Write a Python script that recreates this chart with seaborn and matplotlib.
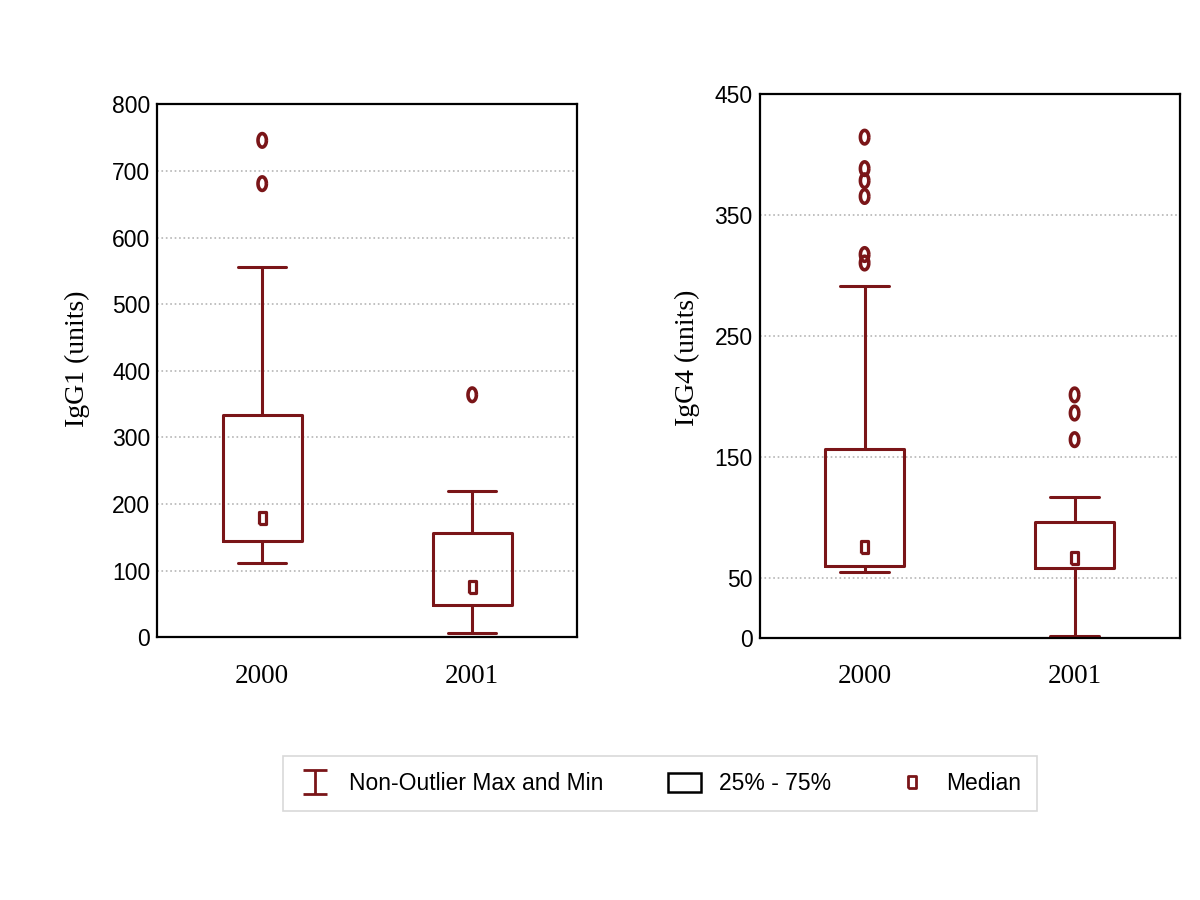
import matplotlib
matplotlib.use("Agg")
import matplotlib.pyplot as plt
import seaborn as sns
import numpy as np
from matplotlib.path import Path
from matplotlib.lines import Line2D
from matplotlib.patches import Patch

sns.set_style("white")
plt.rcParams['font.family'] = ['Liberation Sans', 'DejaVu Sans']
plt.rcParams['text.color'] = 'black'
plt.rcParams['axes.labelcolor'] = 'black'
plt.rcParams['xtick.color'] = 'black'
plt.rcParams['ytick.color'] = 'black'

# data
years = ['2000', '2001']

igg1_q1 = [144, 49]
igg1_q3 = [334, 156]
igg1_med = [179, 75]
igg1_lo = [112, 7]
igg1_hi = [556, 220]
igg1_out = [[746, 681], [364]]

igg4_q1 = [60, 58]
igg4_q3 = [156, 96]
igg4_med = [75, 66]
igg4_lo = [55, 2]
igg4_hi = [291, 117]
igg4_out = [[414, 388, 378, 365, 317, 310], [201, 186, 164]]

red = '#7a1518'

# marker shapes: tall "o" for outliers, tall rectangle for median
t = np.linspace(0, 2 * np.pi, 40)
oval = np.column_stack([0.62 * np.cos(t), np.sin(t)])
rect = [(-0.6, -1), (0.6, -1), (0.6, 1), (-0.6, 1), (-0.6, -1)]
cap = Path([(-1, 1), (1, 1), (0, 1), (0, -1), (-1, -1), (1, -1)],
           [Path.MOVETO, Path.LINETO, Path.MOVETO, Path.LINETO, Path.MOVETO, Path.LINETO])

fig = plt.figure(figsize=(12, 9), dpi=100)
ax1 = fig.add_axes([0.131, 0.292, 0.350, 0.592])
ax2 = fig.add_axes([0.633, 0.291, 0.350, 0.605])


def draw_panel(ax, q1, q3, med, lo, hi, out, ylim, yticks, ylabel, lab_xy):
    stats = []
    for i in range(len(years)):
        stats.append({'med': med[i], 'q1': q1[i], 'q3': q3[i],
                      'whislo': lo[i], 'whishi': hi[i], 'fliers': [],
                      'label': years[i]})
    line = dict(color=red, linewidth=2.2)
    ax.bxp(stats, positions=[0, 1], widths=0.375, capwidths=0.23,
           showfliers=False, boxprops=line, whiskerprops=line, capprops=line,
           medianprops=dict(visible=False))
    # outliers
    ox = [i for i in range(len(years)) for _ in out[i]]
    oy = [v for i in range(len(years)) for v in out[i]]
    sns.scatterplot(x=ox, y=oy, marker=oval, s=95, facecolors='none',
                    edgecolor=red, linewidth=2.6, ax=ax, zorder=4)
    # medians
    sns.scatterplot(x=[0, 1], y=med, marker=rect, s=75, facecolors='none',
                    edgecolor=red, linewidth=2.3, ax=ax, zorder=4)
    ax.set_xlim(-0.5, 1.5)
    ax.set_ylim(*ylim)
    ax.set_yticks(yticks)
    ax.set_xticks([0, 1])
    ax.set_xticklabels(years, family='Liberation Serif', fontsize=19.5)
    ax.tick_params(axis='x', length=0, pad=19)
    ax.tick_params(axis='y', length=3, width=1, labelsize=16.5, pad=2)
    ax.yaxis.grid(True, linestyle=':', color='#b5b5b5', linewidth=1.2)
    ax.set_axisbelow(True)
    for sp in ax.spines.values():
        sp.set_visible(True)
        sp.set_color('black')
        sp.set_linewidth(1.6)
    ax.set_ylabel(ylabel, family='Liberation Serif', fontsize=20)
    ax.yaxis.set_label_coords(*lab_xy)


draw_panel(ax1, igg1_q1, igg1_q3, igg1_med, igg1_lo, igg1_hi, igg1_out,
           (0, 800), list(range(0, 801, 100)), 'IgG1 (units)', (-0.159, 0.523))
draw_panel(ax2, igg4_q1, igg4_q3, igg4_med, igg4_lo, igg4_hi, igg4_out,
           (0, 450), [0, 50, 150, 250, 350, 450], 'IgG4 (units)', (-0.141, 0.515))

handles = [
    Line2D([], [], marker=cap, markersize=17, linestyle='none',
           markeredgecolor=red, markerfacecolor='none', markeredgewidth=2),
    Patch(facecolor='white', edgecolor='black', linewidth=1.8),
    Line2D([], [], marker=rect, markersize=9, linestyle='none',
           markeredgecolor=red, markerfacecolor='none', markeredgewidth=2),
]
labels = ['Non-Outlier Max and Min', '25% - 75%', 'Median']
leg = fig.legend(handles, labels, loc='center', ncol=3,
                 bbox_to_anchor=(0.226, 0.1, 0.648, 0.058), mode='expand',
                 fontsize=16.5, frameon=True, fancybox=False,
                 edgecolor='#cfcfcf', handlelength=1.4, handleheight=0.85,
                 handletextpad=0.8, borderpad=0.7)
leg.get_frame().set_linewidth(1.2)

fig.savefig('out.png', dpi=100, facecolor='white')
